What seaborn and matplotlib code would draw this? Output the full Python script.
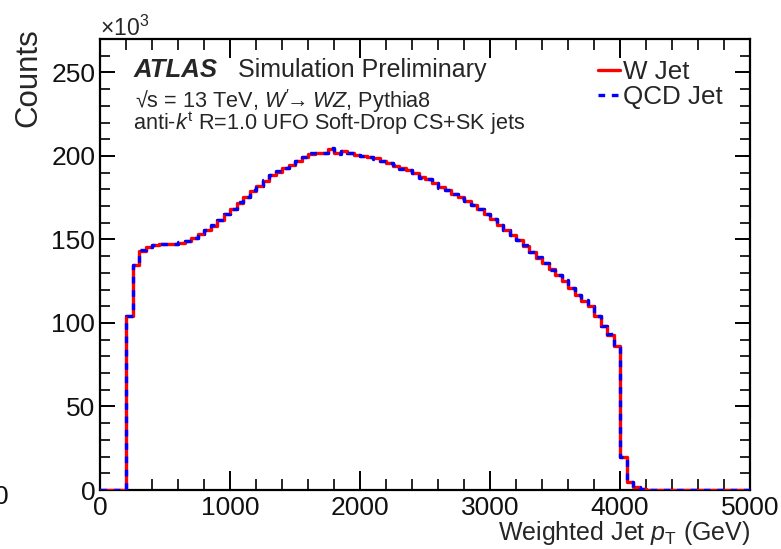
import numpy as np
import pandas as pd
import matplotlib
matplotlib.use("Agg")
import matplotlib.pyplot as plt
from matplotlib.ticker import MultipleLocator
import seaborn as sns

# ---- data (counts in units of 10^3), 50 GeV bins from 0 to 5000 GeV ----
bin_edges = list(range(0, 5050, 50))
w_jet = [0, 0, 0, 0, 104, 135, 143, 145.5, 146.5, 147,
         147, 147.5, 148, 149, 151, 153, 155.5, 158, 161.5, 165,
         168.5, 172, 175.5, 179, 182, 185, 188.5, 190.5, 193, 194.5,
         197, 199.5, 201, 201.5, 201.5, 204, 201.5, 203, 202, 200.5,
         200, 199.5, 198.5, 197, 195.5, 194, 192.5, 191.5, 189.5, 187.5,
         186, 183.5, 181.5, 179.5, 177.5, 175.5, 173, 170.5, 168, 165,
         162, 158.5, 155.5, 152.5, 149.5, 146, 142.5, 139, 136, 132.5,
         129, 125, 121, 117, 113, 110, 104, 98, 93, 86,
         20, 5, 2, 0.5, 0, 0, 0, 0, 0, 0,
         0, 0, 0, 0, 0, 0, 0, 0, 0, 0]
qcd_jet = [0, 0, 0, 0, 104, 134.5, 143.5, 145.5, 146.5, 147,
           147, 147.5, 148.5, 149, 151, 153.5, 155.5, 158.5, 161.5, 165.5,
           168.5, 172.5, 175.5, 179.5, 182, 185.5, 188.5, 191, 193, 195,
           197, 199.5, 201.5, 201.5, 202, 204.5, 201, 203, 202, 200.5,
           200, 199.5, 198, 197, 195.5, 194.5, 192, 191.5, 189.5, 187,
           186, 183.5, 181, 179.5, 177.5, 175, 173, 170.5, 168, 165,
           162.5, 158.5, 155.5, 152.5, 149.5, 146.5, 142.5, 139.5, 136, 132,
           129, 125.5, 121, 117, 113.5, 110, 104, 98, 93.5, 86,
           20, 5, 2, 0.5, 0, 0, 0, 0, 0, 0,
           0, 0, 0, 0, 0, 0, 0, 0, 0, 0]

edges = np.array(bin_edges, dtype=float)
centers = 0.5 * (edges[:-1] + edges[1:])
df_w = pd.DataFrame({"pt": centers, "counts": np.array(w_jet, dtype=float)})
df_q = pd.DataFrame({"pt": centers, "counts": np.array(qcd_jet, dtype=float)})

sns.set_style("ticks")
plt.rcParams["font.family"] = ["Liberation Sans", "DejaVu Sans"]
plt.rcParams["mathtext.fontset"] = "custom"
plt.rcParams["mathtext.rm"] = "Liberation Sans"
plt.rcParams["mathtext.it"] = "Liberation Sans:italic"
plt.rcParams["mathtext.bf"] = "Liberation Sans:bold"

W, H = 781, 549
fig = plt.figure(figsize=(W / 100, H / 100), dpi=100)
ax = fig.add_axes([100 / W, 1 - 490 / H, 650 / W, 451 / H])

sns.histplot(data=df_w, x="pt", weights="counts", bins=bin_edges,
             element="step", fill=False, color="#ff0000", linewidth=2.4, ax=ax,
             label="W Jet", zorder=3)
sns.histplot(data=df_q, x="pt", weights="counts", bins=bin_edges,
             element="step", fill=False, color="#0000ff", linewidth=2.4, ax=ax,
             linestyle=(0, (2, 2)), label="QCD Jet", zorder=3)

ax.set_xlim(0, 5000)
ax.set_ylim(0, 270)
ax.set_xlabel("")
ax.set_ylabel("")

ax.xaxis.set_major_locator(MultipleLocator(1000))
ax.xaxis.set_minor_locator(MultipleLocator(200))
ax.yaxis.set_major_locator(MultipleLocator(50))
ax.yaxis.set_minor_locator(MultipleLocator(10))
ax.tick_params(axis="both", which="both", direction="in", top=True, right=True,
               color="black", labelsize=19, labelcolor="#111111")
ax.tick_params(axis="x", which="major", length=14, width=1.4, pad=4.5)
ax.tick_params(axis="x", which="minor", length=8, width=1.2)
ax.tick_params(axis="y", which="major", length=11, width=1.4, pad=3.5)
ax.tick_params(axis="y", which="minor", length=7, width=1.2)
for s in ax.spines.values():
    s.set_linewidth(1.6)
    s.set_color("black")

# axis titles
fig.text(28.5 / W, 1 - 28 / H, "Counts", rotation=90, ha="center", va="top",
         fontsize=22.5)
fig.text(750 / W, 1 - 540 / H, r"Weighted Jet $p_{\mathrm{T}}$ (GeV)", ha="right",
         va="baseline", fontsize=18)
fig.text(100 / W, 1 - 36 / H, r"×10$^{3}$", ha="left", va="baseline", fontsize=16.5)
# clipped stray label at the left edge
fig.text(0.011, 1 - 497 / H, "0", ha="right", va="center", fontsize=19, color="#111111")

# ATLAS labels
def ay(ypix):
    return (490 - ypix) / 451

ax.text(0.051, ay(77), "ATLAS", transform=ax.transAxes, fontsize=18.5,
        fontweight="bold", fontstyle="italic", ha="left", va="baseline")
ax.text(0.213, ay(77), "Simulation Preliminary", transform=ax.transAxes, fontsize=18,
        ha="left", va="baseline")
ax.text(0.054, ay(108), r"√s = 13 TeV, $W'\!\!\rightarrow WZ$, Pythia8",
        transform=ax.transAxes, fontsize=15.6, ha="left", va="baseline")
ax.text(0.051, ay(130), r"anti-$k^{\mathrm{t}}$ R=1.0 UFO Soft-Drop CS+SK jets",
        transform=ax.transAxes, fontsize=15.6, ha="left", va="baseline")

leg = ax.legend(loc="upper left", bbox_to_anchor=((598 - 100) / 650, ay(60)),
                frameon=False, fontsize=18.7, handlelength=0.85, handletextpad=0.12,
                labelspacing=0.05, borderaxespad=0.0, borderpad=0.0)

fig.savefig("out.png", dpi=100)
